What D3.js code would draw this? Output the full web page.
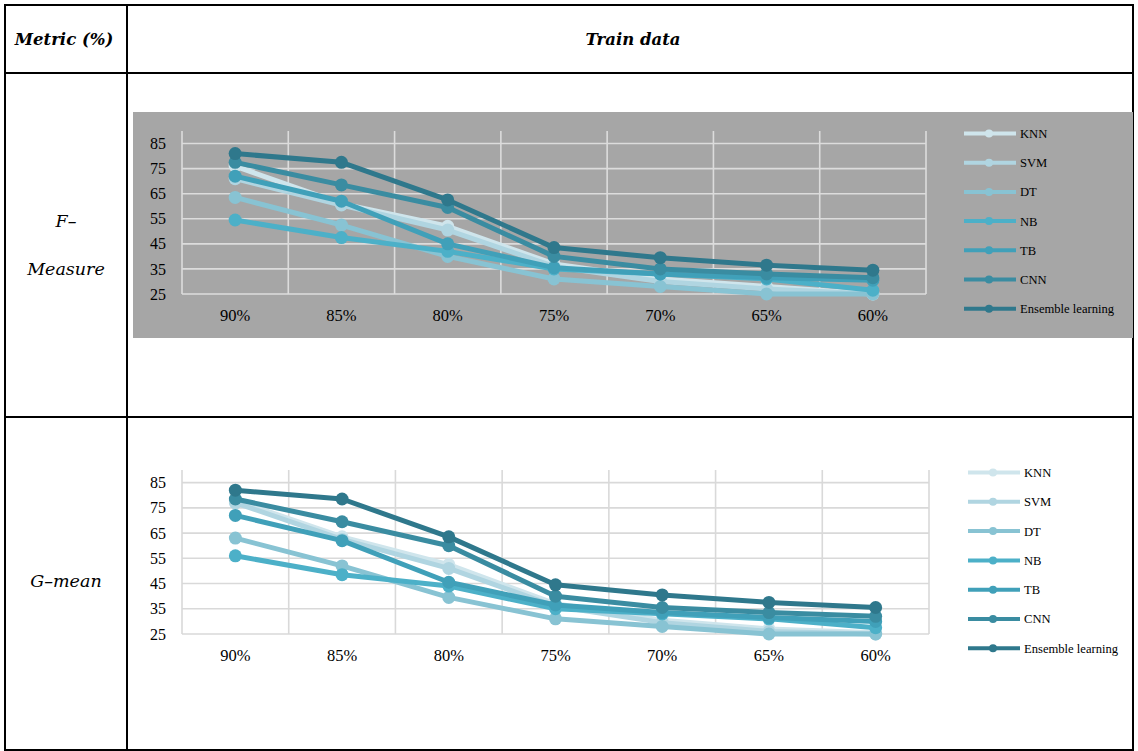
<!DOCTYPE html>
<html>
<head>
<meta charset="utf-8">
<script src="https://cdn.jsdelivr.net/npm/d3@7"></script>
<style>
  html, body { margin: 0; padding: 0; background: #ffffff; }
  svg { display: block; }
</style>
</head>
<body>
<svg id="chart" width="1138" height="751"></svg>
<script>
// Training-split categories (x axis)
const splits = ["90%", "85%", "80%", "75%", "70%", "65%", "60%"];
const models = ["KNN", "SVM", "DT", "NB", "TB", "CNN", "Ensemble learning"];
const yTicks = [25, 35, 45, 55, 65, 75, 85];
const colors = ["#cfe5ec", "#b0d5e1", "#88c3d3", "#4cb0c8", "#40a0b9", "#3a8ca1", "#2f788c"];

// F-Measure (%) per model across splits
const fKNN = [76, 61, 52, 37, 31, 28, 25];
const fSVM = [71, 60.5, 50.5, 36, 30, 27, 25];
const fDT  = [63.5, 52.5, 40, 31, 28, 25, 25];
const fNB  = [54.5, 47.5, 42, 35, 33, 31, 26.5];
const fTB  = [72, 62, 45, 35.5, 33, 31.5, 30.5];
const fCNN = [77.5, 68.5, 59.5, 40, 35, 33, 31.5];
const fENS = [81, 77.5, 62.5, 43.5, 39.5, 36.5, 34.5];

// G-mean (%) per model across splits
const gKNN = [78, 63.5, 52.5, 37, 30.5, 27, 25.5];
const gSVM = [77, 62.5, 51, 36, 29.5, 26, 25];
const gDT  = [63, 52, 39.5, 31, 28, 25, 25];
const gNB  = [56, 48.5, 44, 35, 33, 31, 27.5];
const gTB  = [72, 62, 45.5, 36.5, 33.5, 31.5, 30];
const gCNN = [78.5, 69.5, 60, 40, 35.5, 33.5, 32];
const gENS = [82, 78.5, 63.5, 44.5, 40.5, 37.5, 35.5];

const fSeries = [fKNN, fSVM, fDT, fNB, fTB, fCNN, fENS];
const gSeries = [gKNN, gSVM, gDT, gNB, gTB, gCNN, gENS];

const svg = d3.select("#chart");

// ---- table frame ----
const tbl = { left: 5, right: 1133, top: 5, bottom: 750, col: 127, row1: 73, row2: 417 };
const frame = svg.append("g").attr("stroke", "#000").attr("stroke-width", 2);
frame.append("rect").attr("x", tbl.left).attr("y", tbl.top)
  .attr("width", tbl.right - tbl.left).attr("height", tbl.bottom - tbl.top).attr("fill", "none");
frame.append("line").attr("x1", tbl.col).attr("x2", tbl.col).attr("y1", tbl.top).attr("y2", tbl.bottom);
frame.append("line").attr("x1", tbl.left).attr("x2", tbl.right).attr("y1", tbl.row1).attr("y2", tbl.row1);
frame.append("line").attr("x1", tbl.left).attr("x2", tbl.right).attr("y1", tbl.row2).attr("y2", tbl.row2);

const cellFont = "'DejaVu Serif', serif";
function cellText(x, y, txt, bold) {
  svg.append("text").attr("x", x).attr("y", y)
    .attr("text-anchor", "middle").attr("dominant-baseline", "middle")
    .attr("font-family", cellFont).attr("font-style", "italic")
    .attr("font-weight", bold ? "bold" : "normal")
    .attr("font-size", bold ? 16.5 : 17.5).attr("fill", "#000").text(txt);
}
cellText(64, 40, "Metric (%)", true);
cellText(633, 40, "Train data", true);
cellText(66, 222, "F–", false);
cellText(66, 270, "Measure", false);
cellText(66, 582, "G–mean", false);

// ---- line chart panel ----
function drawPanel(cfg) {
  const g = svg.append("g");
  if (cfg.bg) {
    g.append("rect").attr("x", cfg.bg.x).attr("y", cfg.bg.y)
      .attr("width", cfg.bg.w).attr("height", cfg.bg.h).attr("fill", cfg.bg.fill);
  }
  const x = d3.scaleBand().domain(splits).range([cfg.left, cfg.right]).padding(0);
  const y = d3.scaleLinear().domain([25, 90]).range([cfg.bottom, cfg.top]);

  // horizontal gridlines
  g.append("g").selectAll("line").data(yTicks).join("line")
    .attr("x1", cfg.left).attr("x2", cfg.right)
    .attr("y1", d => y(d)).attr("y2", d => y(d))
    .attr("stroke", cfg.grid).attr("stroke-width", 1.6);
  // vertical gridlines at category boundaries
  const bounds = splits.map(s => x(s)).concat([cfg.right]);
  g.append("g").selectAll("line").data(bounds).join("line")
    .attr("x1", d => d).attr("x2", d => d)
    .attr("y1", cfg.top).attr("y2", cfg.bottom)
    .attr("stroke", cfg.grid).attr("stroke-width", 1.6);

  // axes (labels only)
  const yAxis = g.append("g").attr("transform", `translate(${cfg.left - 6},0)`)
    .call(d3.axisLeft(y).tickValues(yTicks).tickSize(0).tickPadding(10));
  yAxis.select(".domain").remove();
  yAxis.selectAll("text").attr("font-family", "'Liberation Serif', serif")
    .attr("font-size", 16).attr("fill", "#000");

  const xAxis = g.append("g").attr("transform", `translate(0,${cfg.bottom})`)
    .call(d3.axisBottom(x).tickSize(0).tickPadding(15));
  xAxis.select(".domain").remove();
  xAxis.selectAll("text").attr("font-family", "'Liberation Serif', serif")
    .attr("font-size", 16.5).attr("fill", "#000");

  const line = d3.line().x((d, i) => x(splits[i]) + x.bandwidth() / 2).y(d => y(d));
  cfg.series.forEach((vals, k) => {
    const s = g.append("g");
    s.append("path").datum(vals).attr("d", line)
      .attr("fill", "none").attr("stroke", colors[k]).attr("stroke-width", 5)
      .attr("stroke-linejoin", "round");
    s.selectAll("circle").data(vals).join("circle")
      .attr("cx", (d, i) => x(splits[i]) + x.bandwidth() / 2)
      .attr("cy", d => y(d)).attr("r", 6.5).attr("fill", colors[k]);
  });

  // legend
  const lg = g.append("g");
  models.forEach((m, k) => {
    const ly = cfg.legY + k * cfg.legStep;
    lg.append("line").attr("x1", cfg.legX).attr("x2", cfg.legX + 52)
      .attr("y1", ly).attr("y2", ly).attr("stroke", colors[k]).attr("stroke-width", 4);
    lg.append("circle").attr("cx", cfg.legX + 25).attr("cy", ly).attr("r", 4).attr("fill", colors[k]);
    lg.append("text").attr("x", cfg.legX + 56).attr("y", ly).attr("dy", "0.35em")
      .attr("font-family", "'Liberation Serif', serif").attr("font-size", 12.6)
      .attr("fill", "#000").text(m);
  });
}

drawPanel({
  series: fSeries,
  left: 182, right: 926, top: 131, bottom: 294,
  grid: "#dcdcdc",
  bg: { x: 133, y: 112, w: 1000, h: 226, fill: "#a6a6a6" },
  legX: 964, legY: 133.5, legStep: 29.2
});

drawPanel({
  series: gSeries,
  left: 182, right: 929, top: 470, bottom: 634,
  grid: "#d9d9d9",
  bg: null,
  legX: 968, legY: 472.5, legStep: 29.3
});
</script>
</body>
</html>
